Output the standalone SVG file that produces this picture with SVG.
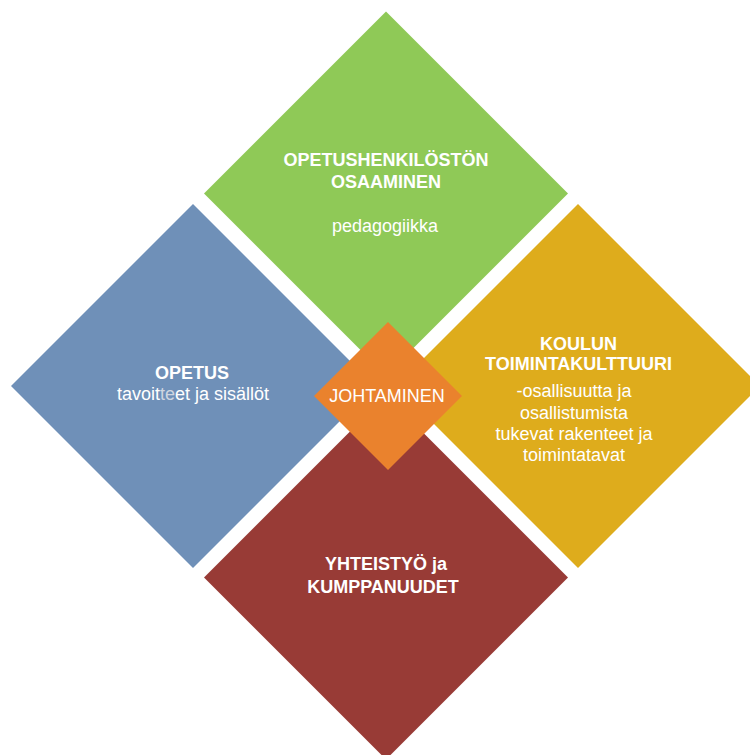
<svg xmlns="http://www.w3.org/2000/svg" width="750" height="755" viewBox="0 0 750 755">
<style>
text{font-family:"Liberation Sans",Arial,sans-serif;font-size:18px;fill:#ffffff;text-anchor:middle}
.b{font-weight:bold}
</style>
<rect width="750" height="755" fill="#ffffff"/>
<g id="connectors"></g>
<g id="node-green">
<polygon points="386,11.5 568,193.5 386,375.5 204,193.5" fill="#8FC957"/>
<text class="b" x="386" y="166">OPETUSHENKILÖSTÖN</text>
<text class="b" x="386" y="187.5">OSAAMINEN</text>
<text x="385" y="232">pedagogiikka</text>
</g>
<g id="node-blue">
<polygon points="193,204 375,386 193,568 11,386" fill="#6F90B8"/>
<text class="b" x="192" y="378.5">OPETUS</text>
<text x="193" y="400">tavoit<tspan fill="#cfd6e0">te</tspan>et ja sisällöt</text>
</g>
<g id="node-yellow">
<polygon points="578,204 760,386 578,568 396,386" fill="#DEAC1C"/>
<text class="b" x="578.5" y="349.5">KOULUN</text>
<text class="b" x="578.5" y="370">TOIMINTAKULTTUURI</text>
<text x="574" y="397">-osallisuutta ja</text>
<text x="574" y="418.5">osallistumista</text>
<text x="574" y="440">tukevat rakenteet ja</text>
<text x="574" y="461">toimintatavat</text>
</g>
<g id="node-red">
<polygon points="386,395.5 568,577.5 386,759.5 204,577.5" fill="#983B36"/>
<text class="b" x="386" y="569.5">YHTEISTYÖ ja</text>
<text class="b" x="383" y="593">KUMPPANUUDET</text>
</g>
<g id="node-orange">
<polygon points="388,322 462,396 388,470 314,396" fill="#EA822D"/>
<text x="387" y="401.5">JOHTAMINEN</text>
</g>
</svg>
